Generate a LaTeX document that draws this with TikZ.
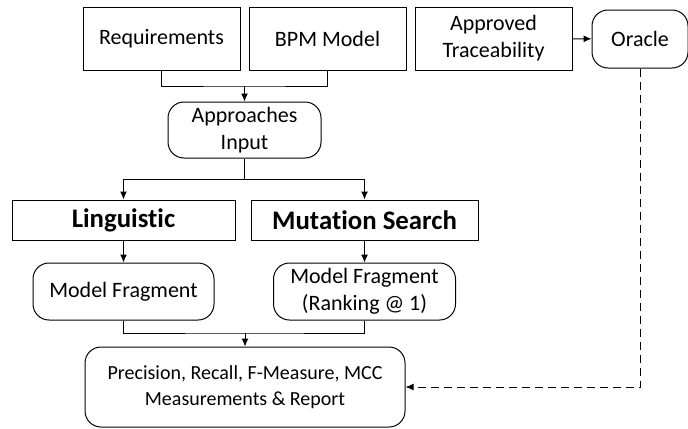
\documentclass[tikz,border=0pt]{standalone}
\usepackage{fontspec}
\setmainfont{Carlito}[Ligatures=NoCommon]
\usetikzlibrary{arrows.meta}

\begin{document}
\begin{tikzpicture}[x=0.5pt, y=-0.5pt,
  box/.style={draw, line width=0.5pt, align=center, inner sep=2pt,
    font=\fontsize{11}{13.5}\selectfont},
  rbox/.style={box, rounded corners=8pt},
  head/.style={box, font=\fontsize{13.4}{15}\selectfont\bfseries},
  flow/.style={line width=0.5pt, -{Latex[length=4pt,width=3.5pt]}},
]
  \useasboundingbox (0,0) rectangle (688,428);

  % inputs
  \node[box, minimum width=78.5pt, minimum height=31.5pt] (req) at (161.5,38.5) {Requirements};
  \node[box, minimum width=78.5pt, minimum height=31.5pt] (bpm) at (327.5,38.5) {BPM Model};
  \node[box, minimum width=78.5pt, minimum height=31.5pt] (appr) at (493.5,38.5) {Approved\\Traceability};
  \node[rbox, minimum width=48pt, minimum height=29pt] (orc) at (640,39) {Oracle};

  \node[rbox, minimum width=76.5pt, minimum height=28pt] (inp) at (244.5,130) {Approaches\\Input};

  % approaches
  \node[head, minimum width=111.5pt, minimum height=20pt] (ling) at (123.5,220) {Linguistic};
  \node[head, minimum width=113.5pt, minimum height=20pt] (mut) at (364.5,220) {Mutation Search};

  \node[rbox, minimum width=90.5pt, minimum height=28.5pt] (fragL) at (123.5,291.5) {Model Fragment};
  \node[rbox, minimum width=91pt, minimum height=28.5pt] (fragM) at (364.5,291.5) {Model Fragment\\(Ranking @ 1)};

  \node[rbox, minimum width=160pt, minimum height=40pt,
    font=\fontsize{10}{13}\selectfont] (res) at (245,387)
    {Precision, Recall, F-Measure, MCC\\Measurements \& Report};

  % connectors
  \coordinate (j1) at (244.5,86);
  \coordinate (j2) at (244.5,179);
  \coordinate (j3) at (245,333);

  \draw[line width=0.5pt] (req.south) |- (j1) -| (bpm.south);
  \draw[flow] (j1) -- (inp.north);
  \draw[flow] (appr) -- (orc);
  \draw[line width=0.5pt] (inp.south) -- (j2);
  \draw[flow] (j2) -| (ling.north);
  \draw[flow] (j2) -| (mut.north);
  \draw[flow] (ling) -- (fragL);
  \draw[flow] (mut) -- (fragM);
  \draw[line width=0.5pt] (fragL.south) |- (j3) -| (fragM.south);
  \draw[flow] (j3) -- (res.north);
  \draw[flow, dash pattern=on 4pt off 2.5pt] (orc.south) |- (res.east);
\end{tikzpicture}
\end{document}
